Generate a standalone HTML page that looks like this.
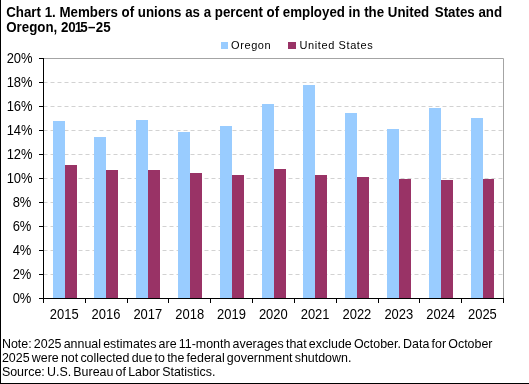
<!DOCTYPE html>
<html><head><meta charset="utf-8"><style>
html,body{margin:0;padding:0;background:#fff;}
body{width:529px;height:384px;overflow:hidden;position:relative;}
svg{position:absolute;left:0;top:0;will-change:transform;}
text{font-family:"Liberation Sans",sans-serif;fill:#000;}
.t{font-size:14.4px;font-weight:bold;}
.ax{font-size:13.8px;}
.lg{font-size:11px;letter-spacing:0.6px;}
.nt{font-size:12.8px;word-spacing:-1.3px;}
</style></head><body>
<svg width="529" height="384" viewBox="0 0 529 384">
<rect x="0" y="0" width="529" height="384" fill="#fff"/>
<text transform="translate(6.2,16.8) scale(0.925,1)" class="t">Chart 1. Members of unions as a percent of employed in the United <tspan dx="2.05">States and</tspan></text>
<text transform="translate(6.2,31.8) scale(0.925,1)" class="t">Oregon, 20<tspan dx="-1.08">1</tspan><tspan dx="-1.95">5</tspan><tspan dx="0.19">–</tspan><tspan dx="0.44">25</tspan></text>
<rect x="221" y="42" width="7" height="7" fill="#99ccff"/>
<text x="231" y="49" class="lg">Oregon</text>
<rect x="288" y="42" width="8" height="7" fill="#993366"/>
<text x="299.5" y="49" class="lg">United States</text>
<line x1="43.5" y1="274.5" x2="503" y2="274.5" stroke="#d2d2d2" stroke-width="1" stroke-dasharray="4 3"/>
<line x1="43.5" y1="250.5" x2="503" y2="250.5" stroke="#d2d2d2" stroke-width="1" stroke-dasharray="4 3"/>
<line x1="43.5" y1="226.5" x2="503" y2="226.5" stroke="#d2d2d2" stroke-width="1" stroke-dasharray="4 3"/>
<line x1="43.5" y1="202.5" x2="503" y2="202.5" stroke="#d2d2d2" stroke-width="1" stroke-dasharray="4 3"/>
<line x1="43.5" y1="178.5" x2="503" y2="178.5" stroke="#d2d2d2" stroke-width="1" stroke-dasharray="4 3"/>
<line x1="43.5" y1="154.5" x2="503" y2="154.5" stroke="#d2d2d2" stroke-width="1" stroke-dasharray="4 3"/>
<line x1="43.5" y1="130.5" x2="503" y2="130.5" stroke="#d2d2d2" stroke-width="1" stroke-dasharray="4 3"/>
<line x1="43.5" y1="106.5" x2="503" y2="106.5" stroke="#d2d2d2" stroke-width="1" stroke-dasharray="4 3"/>
<line x1="43.5" y1="82.5" x2="503" y2="82.5" stroke="#d2d2d2" stroke-width="1" stroke-dasharray="4 3"/>
<polyline points="43,58.5 503.5,58.5 503.5,298" fill="none" stroke="#a4a4a4" stroke-width="1"/>
<rect x="53" y="121" width="12" height="177" fill="#99ccff"/>
<rect x="65" y="165" width="12" height="133" fill="#993366"/>
<rect x="94" y="137" width="12" height="161" fill="#99ccff"/>
<rect x="106" y="170" width="12" height="128" fill="#993366"/>
<rect x="136" y="120" width="12" height="178" fill="#99ccff"/>
<rect x="148" y="170" width="12" height="128" fill="#993366"/>
<rect x="178" y="132" width="12" height="166" fill="#99ccff"/>
<rect x="190" y="173" width="12" height="125" fill="#993366"/>
<rect x="220" y="126" width="12" height="172" fill="#99ccff"/>
<rect x="232" y="175" width="12" height="123" fill="#993366"/>
<rect x="262" y="104" width="12" height="194" fill="#99ccff"/>
<rect x="274" y="169" width="12" height="129" fill="#993366"/>
<rect x="303" y="85" width="12" height="213" fill="#99ccff"/>
<rect x="315" y="175" width="12" height="123" fill="#993366"/>
<rect x="345" y="113" width="12" height="185" fill="#99ccff"/>
<rect x="357" y="177" width="12" height="121" fill="#993366"/>
<rect x="387" y="129" width="12" height="169" fill="#99ccff"/>
<rect x="399" y="179" width="12" height="119" fill="#993366"/>
<rect x="429" y="108" width="12" height="190" fill="#99ccff"/>
<rect x="441" y="180" width="12" height="118" fill="#993366"/>
<rect x="471" y="118" width="12" height="180" fill="#99ccff"/>
<rect x="483" y="179" width="11" height="119" fill="#993366"/>
<line x1="43.5" y1="58" x2="43.5" y2="298.5" stroke="#000" stroke-width="1"/>
<line x1="43" y1="298.5" x2="504" y2="298.5" stroke="#000" stroke-width="1"/>
<line x1="39" y1="298.5" x2="44" y2="298.5" stroke="#000" stroke-width="1"/>
<text transform="translate(31.4,302.8) scale(0.94,1)" text-anchor="end" class="ax">0%</text>
<line x1="39" y1="274.5" x2="44" y2="274.5" stroke="#000" stroke-width="1"/>
<text transform="translate(31.4,278.8) scale(0.94,1)" text-anchor="end" class="ax">2%</text>
<line x1="39" y1="250.5" x2="44" y2="250.5" stroke="#000" stroke-width="1"/>
<text transform="translate(31.4,254.8) scale(0.94,1)" text-anchor="end" class="ax">4%</text>
<line x1="39" y1="226.5" x2="44" y2="226.5" stroke="#000" stroke-width="1"/>
<text transform="translate(31.4,230.8) scale(0.94,1)" text-anchor="end" class="ax">6%</text>
<line x1="39" y1="202.5" x2="44" y2="202.5" stroke="#000" stroke-width="1"/>
<text transform="translate(31.4,206.8) scale(0.94,1)" text-anchor="end" class="ax">8%</text>
<line x1="39" y1="178.5" x2="44" y2="178.5" stroke="#000" stroke-width="1"/>
<text transform="translate(32.6,182.8) scale(0.94,1)" text-anchor="end" class="ax">10%</text>
<line x1="39" y1="154.5" x2="44" y2="154.5" stroke="#000" stroke-width="1"/>
<text transform="translate(32.6,158.8) scale(0.94,1)" text-anchor="end" class="ax">12%</text>
<line x1="39" y1="130.5" x2="44" y2="130.5" stroke="#000" stroke-width="1"/>
<text transform="translate(32.6,134.8) scale(0.94,1)" text-anchor="end" class="ax">14%</text>
<line x1="39" y1="106.5" x2="44" y2="106.5" stroke="#000" stroke-width="1"/>
<text transform="translate(32.6,110.8) scale(0.94,1)" text-anchor="end" class="ax">16%</text>
<line x1="39" y1="82.5" x2="44" y2="82.5" stroke="#000" stroke-width="1"/>
<text transform="translate(32.6,86.8) scale(0.94,1)" text-anchor="end" class="ax">18%</text>
<line x1="39" y1="58.5" x2="44" y2="58.5" stroke="#000" stroke-width="1"/>
<text transform="translate(32.6,62.8) scale(0.94,1)" text-anchor="end" class="ax">20%</text>
<line x1="43.5" y1="298" x2="43.5" y2="303" stroke="#000" stroke-width="1"/>
<line x1="85.5" y1="298" x2="85.5" y2="303" stroke="#000" stroke-width="1"/>
<line x1="127.5" y1="298" x2="127.5" y2="303" stroke="#000" stroke-width="1"/>
<line x1="168.5" y1="298" x2="168.5" y2="303" stroke="#000" stroke-width="1"/>
<line x1="210.5" y1="298" x2="210.5" y2="303" stroke="#000" stroke-width="1"/>
<line x1="252.5" y1="298" x2="252.5" y2="303" stroke="#000" stroke-width="1"/>
<line x1="294.5" y1="298" x2="294.5" y2="303" stroke="#000" stroke-width="1"/>
<line x1="336.5" y1="298" x2="336.5" y2="303" stroke="#000" stroke-width="1"/>
<line x1="378.5" y1="298" x2="378.5" y2="303" stroke="#000" stroke-width="1"/>
<line x1="419.5" y1="298" x2="419.5" y2="303" stroke="#000" stroke-width="1"/>
<line x1="461.5" y1="298" x2="461.5" y2="303" stroke="#000" stroke-width="1"/>
<line x1="503.5" y1="298" x2="503.5" y2="303" stroke="#000" stroke-width="1"/>
<text transform="translate(64.2,318.9) scale(0.94,1)" text-anchor="middle" class="ax">2015</text>
<text transform="translate(106.0,318.9) scale(0.94,1)" text-anchor="middle" class="ax">2016</text>
<text transform="translate(147.8,318.9) scale(0.94,1)" text-anchor="middle" class="ax">2017</text>
<text transform="translate(189.7,318.9) scale(0.94,1)" text-anchor="middle" class="ax">2018</text>
<text transform="translate(231.5,318.9) scale(0.94,1)" text-anchor="middle" class="ax">2019</text>
<text transform="translate(273.3,318.9) scale(0.94,1)" text-anchor="middle" class="ax">2020</text>
<text transform="translate(315.1,318.9) scale(0.94,1)" text-anchor="middle" class="ax">2021</text>
<text transform="translate(356.9,318.9) scale(0.94,1)" text-anchor="middle" class="ax">2022</text>
<text transform="translate(398.8,318.9) scale(0.94,1)" text-anchor="middle" class="ax">2023</text>
<text transform="translate(440.6,318.9) scale(0.94,1)" text-anchor="middle" class="ax">2024</text>
<text transform="translate(482.4,318.9) scale(0.94,1)" text-anchor="middle" class="ax">2025</text>
<text transform="translate(1.9,348) scale(0.973,1)" class="nt">Note: 2025 annual estimates are 11-month averages that exclude October. Data for October</text>
<text transform="translate(1.9,361.6) scale(0.973,1)" class="nt">2025 were not collected due to the federal government shutdown.</text>
<text transform="translate(1.9,375.7) scale(0.973,1)" class="nt">Source: U.S. Bureau of Labor Statistics.</text>
<rect x="0" y="0" width="1" height="384" fill="#000"/>
<rect x="0" y="383" width="529" height="1" fill="#000"/>
</svg>
</body></html>
